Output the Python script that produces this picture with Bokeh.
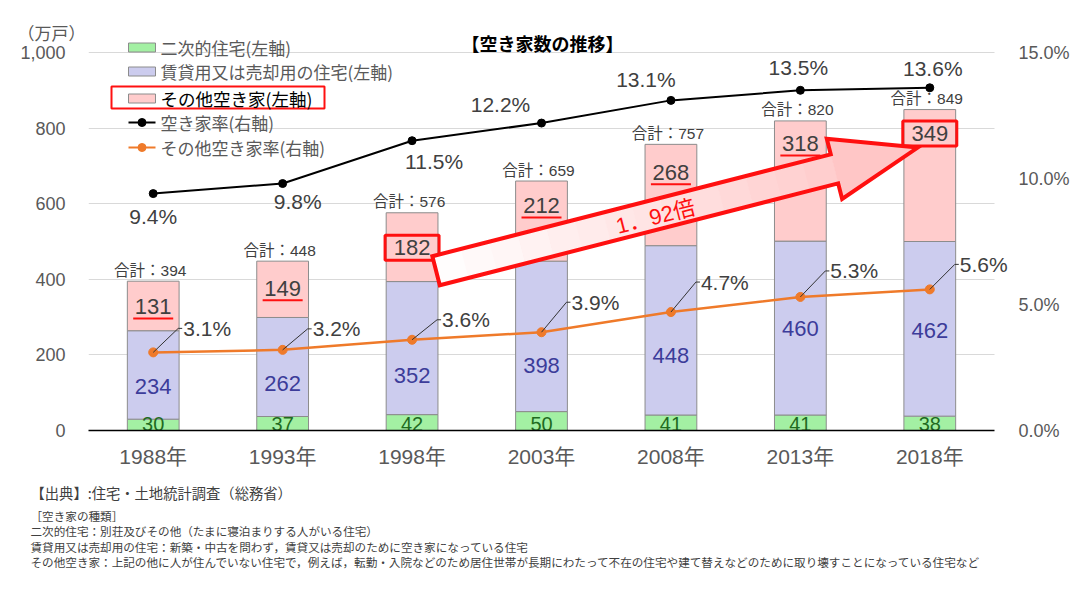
import math
from bokeh.plotting import figure
from bokeh.layouts import column
from bokeh.models import Range1d, LinearAxis, FixedTicker, Label, ColumnDataSource
from bokeh.core.properties import value
from bokeh.embed import file_html
from bokeh.resources import INLINE

# ---------------- data ----------------
years = ["1988年", "1993年", "1998年", "2003年", "2008年", "2013年", "2018年"]
second_homes = [30, 37, 42, 50, 41, 41, 38]          # 二次的住宅
rental_sale = [234, 262, 352, 398, 448, 460, 462]    # 賃貸用又は売却用の住宅
other_vacant = [131, 149, 182, 212, 268, 318, 349]   # その他空き家
totals = [394, 448, 576, 659, 757, 820, 849]         # 合計
vacancy_rate = [9.4, 9.8, 11.5, 12.2, 13.1, 13.5, 13.6]   # 空き家率
other_rate = [3.1, 3.2, 3.6, 3.9, 4.7, 5.3, 5.6]          # その他空き家率
left_ticks = [0, 200, 400, 600, 800, 1000]
left_tick_labels = ["0", "200", "400", "600", "800", "1,000"]
right_ticks = [0, 5, 10, 15]
right_tick_labels = ["0.0%", "5.0%", "10.0%", "15.0%"]
ratio_text = "1．92倍"
footnotes = [
    "【出典】:住宅・土地統計調査（総務省）",
    "［空き家の種類］",
    "二次的住宅：別荘及びその他（たまに寝泊まりする人がいる住宅）",
    "賃貸用又は売却用の住宅：新築・中古を問わず，賃貸又は売却のために空き家になっている住宅",
    "その他空き家：上記の他に人が住んでいない住宅で，例えば，転勤・入院などのため居住世帯が長期にわたって不在の住宅や建て替えなどのために取り壊すことになっている住宅など",
]

# ---------------- layout / style ----------------
W = 1076
H_MAIN, H_FOOT = 474, 100
FRAME_L, FRAME_R, FRAME_T, FRAME_B = 88, 1010, 12, 430   # canvas pixels
DATA_R = 994                                            # right end of the category area
PX_X = (DATA_R - FRAME_L) / 7.0
PX_Y = 378.0 / 1000.0
Y_END = (FRAME_B - FRAME_T) / PX_Y
R_END = Y_END * 15.0 / 1000.0
X_END = 0.5 + (FRAME_R - FRAME_L) / PX_X

NUM_FONT = "Liberation Sans, Noto Sans CJK JP"
JP_FONT = "Noto Sans CJK JP"
GREEN, BLUE, PINK = "#a3f0a3", "#ccccee", "#ffcccc"
ORANGE = "#ef7a2a"
TXT = "#404040"
AX = "#595959"
RED = "#ff1010"


def px2x(px):
    return 0.5 + (px - FRAME_L) / PX_X


def py2y(py):
    return (FRAME_B - py) / PX_Y


def pct2y(v):
    return v * 1000.0 / 15.0


xs = list(range(1, len(years) + 1))

p = figure(width=W, height=H_MAIN, output_backend="svg", toolbar_location=None,
           x_range=Range1d(0.5, X_END), y_range=Range1d(0, Y_END),
           min_border_left=FRAME_L, min_border_right=W - FRAME_R,
           min_border_top=FRAME_T, min_border_bottom=H_MAIN - FRAME_B)
p.outline_line_color = None
p.background_fill_color = "white"
p.border_fill_color = "white"
p.extra_y_ranges = {"right": Range1d(0, R_END)}

# unit label (top-left, outside the frame) as the figure title
p.title.text = "（万戸）"
p.title.align = "left"
p.title.text_font = JP_FONT
p.title.text_font_size = "17px"
p.title.text_font_style = "normal"
p.title.text_color = AX
p.title.vertical_align = "bottom"
try:
    p.title.offset = 17 - FRAME_L
    p.title.standoff = -64
except Exception:
    pass

# axes
p.xaxis.ticker = FixedTicker(ticks=xs)
p.xaxis.bounds = (0.5, 7.5)
p.xaxis.major_label_overrides = {x: y for x, y in zip(xs, years)}
p.xaxis.axis_line_color = "black"
p.xaxis.axis_line_width = 1.5
p.xaxis.major_tick_line_color = None
p.xaxis.minor_tick_line_color = None
p.xaxis.major_label_text_font = NUM_FONT
p.xaxis.major_label_text_font_size = "21px"
p.xaxis.major_label_text_color = AX
p.xaxis.major_label_standoff = 8

p.yaxis.ticker = FixedTicker(ticks=left_ticks)
p.yaxis.major_label_overrides = {t: s for t, s in zip(left_ticks, left_tick_labels)}
p.yaxis.axis_line_color = None
p.yaxis.major_tick_line_color = None
p.yaxis.minor_tick_line_color = None
p.yaxis.major_label_text_font = NUM_FONT
p.yaxis.major_label_text_font_size = "18px"
p.yaxis.major_label_text_color = AX
p.yaxis.major_label_standoff = 17

rax = LinearAxis(y_range_name="right", ticker=FixedTicker(ticks=right_ticks))
rax.major_label_overrides = {t: s for t, s in zip(right_ticks, right_tick_labels)}
rax.axis_line_color = None
rax.major_tick_line_color = None
rax.minor_tick_line_color = None
rax.major_label_text_font = NUM_FONT
rax.major_label_text_font_size = "18px"
rax.major_label_text_color = AX
rax.major_label_standoff = 2
p.add_layout(rax, "right")

p.xgrid.visible = False
grid_ok = True
try:
    p.ygrid.cross_bounds = (0.5, 7.5)
except Exception:
    grid_ok = False
if grid_ok:
    p.ygrid.ticker = FixedTicker(ticks=left_ticks[1:])
    p.ygrid.grid_line_color = "#d9d9d9"
else:
    p.ygrid.visible = False
    p.segment(x0=[0.5] * 5, x1=[7.5] * 5, y0=left_ticks[1:], y1=left_ticks[1:],
              line_color="#d9d9d9", line_width=1)

# stacked bars
src = ColumnDataSource(dict(x=xs, green=second_homes, blue=rental_sale, pink=other_vacant))
p.vbar_stack(["green", "blue", "pink"], x="x", width=0.4, source=src,
             fill_color=[GREEN, BLUE, PINK], line_color="#8c8c8c", line_width=1)

# green labels (clipped by the axis as in the original)
p.text(x=xs, y=[7 / PX_Y] * len(xs), text=[str(v) for v in second_homes],
       text_font=value(NUM_FONT), text_font_size="20px", text_color="#1f6b1f",
       text_align="center", text_baseline="middle")

# label position styles (pixels)
pink_off_px = [25, 27, 35, 24, 28, 23, 24]
blue_up_px = [44, 47, 55, 65, 75, 102, 100]
pink_y = [t - o / PX_Y for t, o in zip(totals, pink_off_px)]
boxed = [2, 6]

# red underlines and boxes
ul = [i for i in range(len(xs)) if i not in boxed]
p.segment(x0=[xs[i] - 20 / PX_X for i in ul], x1=[xs[i] + 20 / PX_X for i in ul],
          y0=[pink_y[i] - 12 / PX_Y for i in ul], y1=[pink_y[i] - 12 / PX_Y for i in ul],
          line_color=RED, line_width=2)
p.rect(x=[xs[i] for i in boxed], y=[pink_y[i] for i in boxed], width=54, height=25,
       width_units="screen", height_units="screen", fill_color=None,
       line_color=RED, line_width=3)

# big arrow (pixel geometry anchored to the boxed labels)
sx = FRAME_L + (xs[2] - 0.5) * PX_X + 24
sy = FRAME_B - pink_y[2] * PX_Y + 23
tx = FRAME_L + (xs[6] - 0.5) * PX_X - 12
ty = FRAME_B - pink_y[6] * PX_Y + 14
L = math.hypot(tx - sx, ty - sy)
ux, uy = (tx - sx) / L, (ty - sy) / L
nx, ny = -uy, ux
HB, SHW, HHW = L - 86, 15, 31


def pt(a, b):
    return px2x(sx + a * ux + b * nx), py2y(sy + a * uy + b * ny)


nseg = 14
for k in range(nseg):
    a0, a1 = HB * k / nseg, HB * (k + 1) / nseg + 0.5
    fr = (k + 0.5) / nseg
    g = int(255 - fr * 50)
    col = "#%02x%02x%02x" % (255, g, g)
    pts = [pt(a0, -SHW), pt(a1, -SHW), pt(a1, SHW), pt(a0, SHW)]
    p.patch([q[0] for q in pts], [q[1] for q in pts], fill_color=col, line_color=None)
head = [pt(HB, -HHW), pt(L, 0), pt(HB, HHW)]
p.patch([q[0] for q in head], [q[1] for q in head], fill_color="#ffc6c6", line_color=None)
outline = [pt(0, -SHW), pt(HB, -SHW), pt(HB, -HHW), pt(L, 0), pt(HB, HHW), pt(HB, SHW), pt(0, SHW)]
p.patch([q[0] for q in outline], [q[1] for q in outline], fill_color=None,
        line_color=RED, line_width=4, line_join="miter")

# lines
p.line(xs, vacancy_rate, y_range_name="right", line_color="black", line_width=2)
p.scatter(xs, vacancy_rate, y_range_name="right", size=8, fill_color="black", line_color="black")
p.line(xs, other_rate, y_range_name="right", line_color=ORANGE, line_width=2.5)
p.scatter(xs, other_rate, y_range_name="right", size=9, fill_color=ORANGE, line_color=ORANGE)

# leader lines for orange labels
lead_dy = [-24, -21, -20, -30, -30, -26, -25]
LDX = 25
PX_R = PX_Y * 1000.0 / 15.0
lx0, ly0, lx1, ly1 = [], [], [], []
for x, v, d in zip(xs, other_rate, lead_dy):
    tx_ = x + LDX / PX_X
    ty_ = v - d / PX_R
    lx0 += [x, tx_]
    ly0 += [v, ty_]
    lx1 += [tx_, tx_ + 4 / PX_X]
    ly1 += [ty_, ty_]
p.segment(x0=lx0, y0=ly0, x1=lx1, y1=ly1, y_range_name="right", line_color="#333333", line_width=1)


def label(x, y, text, size, color, font=NUM_FONT, align="center", baseline="middle",
          bold=False, angle=0.0):
    p.add_layout(Label(x=x, y=y, text=text, text_font=font, text_font_size=f"{size}px",
                       text_color=color, text_align=align, text_baseline=baseline,
                       text_font_style="bold" if bold else "normal", angle=angle))


for x, v, d in zip(xs, other_rate, lead_dy):
    label(x + (LDX + 5) / PX_X, pct2y(v) - d / PX_Y, f"{v:.1f}%", 21, TXT, align="left")

# vacancy rate labels
black_off = [(0, 23), (15, 18), (22, 21), (-41, -19), (-25, -21), (-2, -23), (3, -19)]
for x, v, (dx, dy) in zip(xs, vacancy_rate, black_off):
    label(x + dx / PX_X, pct2y(v) - dy / PX_Y, f"{v:.1f}%", 21, TXT)

# bar labels
for i, x in enumerate(xs):
    label(x, pink_y[i], str(other_vacant[i]), 22, TXT)
    label(x, blue_up_px[i] / PX_Y, str(rental_sale[i]), 22, "#3c3c9a")
    label(x - 3 / PX_X, totals[i] + 11 / PX_Y, f"合計：{totals[i]}", 15.5, TXT)

# arrow text
a_mid = 226
label(px2x(sx + a_mid * ux + 2 * nx), py2y(sy + a_mid * uy + 2 * ny), ratio_text, 22, RED,
      angle=math.atan2(-uy, ux))

# legend (manual)
rows = [47, 71, 98, 122, 147]
names = ["二次的住宅(左軸)", "賃貸用又は売却用の住宅(左軸)", "その他空き家(左軸)",
         "空き家率(右軸)", "その他空き家率(右軸)"]
p.rect(x=[px2x(141.5)] * 3, y=[py2y(r) for r in rows[:3]], width=27, height=9,
       width_units="screen", height_units="screen", fill_color=[GREEN, BLUE, PINK],
       line_color="#8c8c8c", line_width=1)
for r, c in zip(rows[3:], ["black", ORANGE]):
    p.segment(x0=[px2x(128)], x1=[px2x(155)], y0=[py2y(r)], y1=[py2y(r)], line_color=c, line_width=2)
    p.scatter([px2x(141.5)], [py2y(r)], size=8, fill_color=c, line_color=c)
p.rect(x=[px2x(217.5)], y=[py2y(97)], width=213, height=22, width_units="screen",
       height_units="screen", fill_color=None, line_color=RED, line_width=2)
for i, (r, n) in enumerate(zip(rows, names)):
    if i == 2:
        label(px2x(160), py2y(r), n, 17.5, "black", font=JP_FONT, align="left")
    else:
        label(px2x(160), py2y(r), n, 17, AX, font=JP_FONT, align="left")

# chart title
label(px2x(542), py2y(42), "【空き家数の推移】", 18, "black", font=JP_FONT, bold=True)

# ---------------- footnote strip ----------------
f = figure(width=W, height=H_FOOT, output_backend="svg", toolbar_location=None,
           x_range=Range1d(0, W), y_range=Range1d(H_FOOT, 0),
           x_axis_type=None, y_axis_type=None,
           min_border_left=0, min_border_right=0, min_border_top=0, min_border_bottom=0)
f.outline_line_color = None
f.grid.visible = False
for fig in (p, f):
    try:
        fig.frame_align = False
    except Exception:
        pass
foot_y = [492, 515, 530, 546, 561]
foot_size = ["14.3px", "11.6px", "11.6px", "11.6px", "11.6px"]
for t, yy, s in zip(footnotes, foot_y, foot_size):
    f.text(x=[30], y=[yy - H_MAIN], text=[t], text_font=value(JP_FONT), text_font_size=s,
           text_color=TXT, text_align="left", text_baseline="middle")

open("out.html", "w").write(file_html(column(p, f), INLINE))
